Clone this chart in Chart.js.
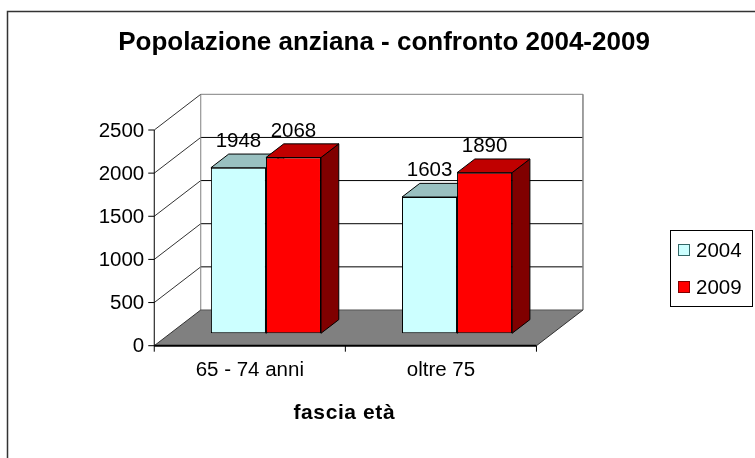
<!DOCTYPE html>
<html>
<head>
<meta charset="utf-8">
<script src="https://cdn.jsdelivr.net/npm/chart.js@4"></script>
<style>
  body { margin: 0; background: #fff; }
  canvas { display: block; }
</style>
</head>
<body>
<canvas id="chart" width="755" height="458"></canvas>
<script>
// data
const categories = ["65 - 74 anni", "oltre 75"];
const seriesNames = ["2004", "2009"];
const values2004 = [1948, 1603];
const values2009 = [2068, 1890];
const yMax = 2500;
const yStep = 500;

const chartTitle = "Popolazione anziana - confronto 2004-2009";
const xTitle = "fascia età";

// 3d look, the chart area is the front plane of the bars
const DX = 46.5, DY = -35.7;     // full floor depth
const BAR_FRONT = 0.347, BAR_BACK = 0.73;
const WALL_K = 1.015;            // walls a touch taller than the bars
const FONT = "'Liberation Sans', Arial, sans-serif";

// point on a plane at depth d (0 = front edge, 1 = back wall)
function at(chart, x, v, d, k) {
  const ys = chart.scales.y;
  const h = (ys.bottom - ys.getPixelForValue(v)) * k;
  const s = d - BAR_FRONT;
  return [x + s * DX, ys.bottom - h + s * DY];
}

function poly(ctx, pts, fill, stroke, lw) {
  ctx.beginPath();
  ctx.moveTo(pts[0][0], pts[0][1]);
  for (let i = 1; i < pts.length; i++) ctx.lineTo(pts[i][0], pts[i][1]);
  ctx.closePath();
  if (fill) { ctx.fillStyle = fill; ctx.fill(); }
  if (stroke) { ctx.strokeStyle = stroke; ctx.lineWidth = lw || 1; ctx.stroke(); }
}

function line(ctx, a, b, color, lw) {
  ctx.beginPath();
  ctx.moveTo(a[0], a[1]);
  ctx.lineTo(b[0], b[1]);
  ctx.strokeStyle = color;
  ctx.lineWidth = lw || 1;
  ctx.stroke();
}

const scene3d = {
  id: "scene3d",
  beforeDraw(chart) {
    const ctx = chart.ctx;
    ctx.save();
    ctx.fillStyle = "#fff";
    ctx.fillRect(0, 0, chart.width, chart.height);
    // outer frame, runs off the right and bottom
    ctx.strokeStyle = "#333";
    ctx.lineWidth = 1.5;
    ctx.strokeRect(7.5, 11.5, chart.width + 20, chart.height + 20);
    // title
    ctx.fillStyle = "#000";
    ctx.font = "bold 26px " + FONT;
    ctx.textAlign = "center";
    ctx.textBaseline = "middle";
    ctx.fillText(chartTitle, 384, 43);
    ctx.restore();
  },
  beforeDatasetsDraw(chart) {
    const ctx = chart.ctx;
    const xs = chart.scales.x, ys = chart.scales.y;
    const L = xs.left, R = xs.right;
    const ticks = ys.ticks.map(t => t.value);
    ctx.save();

    // back wall
    poly(ctx, [at(chart, L, 0, 1, WALL_K), at(chart, R, 0, 1, WALL_K),
               at(chart, R, yMax, 1, WALL_K), at(chart, L, yMax, 1, WALL_K)], "#fff", null);
    ticks.forEach(v => {
      if (v === 0) return;
      const c = v === yMax ? "#808080" : "#000";
      line(ctx, at(chart, L, v, 1, WALL_K), at(chart, R, v, 1, WALL_K), c, 1);
      line(ctx, at(chart, L, v, 0, WALL_K), at(chart, L, v, 1, WALL_K), "#333", 1);
    });
    line(ctx, at(chart, L, 0, 1, WALL_K), at(chart, L, yMax, 1, WALL_K), "#808080", 1);
    line(ctx, at(chart, R, 0, 1, WALL_K), at(chart, R, yMax, 1, WALL_K), "#808080", 1.5);

    // floor
    const f0 = at(chart, L, 0, 0, 1), f1 = at(chart, R, 0, 0, 1);
    const b1 = at(chart, R, 0, 1, 1), b0 = at(chart, L, 0, 1, 1);
    poly(ctx, [f0, f1, b1, b0], "#808080", null);
    line(ctx, b0, b1, "#555", 1);
    line(ctx, f1, b1, "#333", 1);
    line(ctx, f0, b0, "#333", 1);
    line(ctx, f0, f1, "#000", 2);

    // value axis at the front
    line(ctx, f0, at(chart, L, yMax, 0, WALL_K), "#000", 1);
    ctx.font = "20.5px " + FONT;
    ctx.fillStyle = "#000";
    ctx.textAlign = "right";
    ctx.textBaseline = "middle";
    ticks.forEach(v => {
      const p = at(chart, L, v, 0, WALL_K);
      line(ctx, [p[0] - 6, p[1]], p, "#000", 1);
      ctx.fillText(String(v), p[0] - 10, p[1] + 1);
    });

    // category axis
    const n = chart.data.labels.length;
    const cw = (R - L) / n;
    for (let i = 0; i <= n; i++) {
      const p = at(chart, L + i * cw, 0, 0, 1);
      line(ctx, p, [p[0], p[1] + 6], "#000", 1);
    }
    ctx.textAlign = "center";
    chart.data.labels.forEach((lab, i) => {
      const p = at(chart, xs.getPixelForValue(i), 0, 0, 1);
      ctx.fillText(lab, p[0], p[1] + 25);
    });
    ctx.font = "bold 21px " + FONT;
    ctx.letterSpacing = "0.6px";
    const mid = at(chart, (L + R) / 2, 0, 0, 1);
    ctx.fillText(xTitle, mid[0] - 1, mid[1] + 68);
    ctx.letterSpacing = "0px";
    ctx.restore();
  },
  beforeDatasetDraw() {
    return false; // bars are drawn below, in depth order
  },
  afterDatasetsDraw(chart) {
    const ctx = chart.ctx;
    const bdx = (BAR_BACK - BAR_FRONT) * DX, bdy = (BAR_BACK - BAR_FRONT) * DY;
    ctx.save();
    const n = chart.data.labels.length;
    for (let i = 0; i < n; i++) {
      chart.data.datasets.forEach((ds, d) => {
        const el = chart.getDatasetMeta(d).data[i];
        const { x, y, base, width } = el.getProps(["x", "y", "base", "width"], true);
        const x0 = x - width / 2, x1 = x + width / 2;
        el.draw(ctx, chart.chartArea);
        poly(ctx, [[x1, y], [x1, base], [x1 + bdx, base + bdy], [x1 + bdx, y + bdy]], ds.sideColor, "#000", 1);
        poly(ctx, [[x0, y], [x1, y], [x1 + bdx, y + bdy], [x0 + bdx, y + bdy]], ds.topColor, "#000", 1);
      });
    }
    // value labels
    ctx.font = "20.5px " + FONT;
    ctx.fillStyle = "#000";
    ctx.textAlign = "center";
    ctx.textBaseline = "middle";
    chart.data.datasets.forEach((ds, d) => {
      chart.getDatasetMeta(d).data.forEach((el, i) => {
        ctx.fillText(String(ds.data[i]), el.x, el.y + bdy - 13);
      });
    });

    // legend box
    ctx.strokeStyle = "#000";
    ctx.lineWidth = 1;
    ctx.strokeRect(670.5, 230.5, 82, 76);
    ctx.textAlign = "left";
    chart.data.datasets.forEach((ds, d) => {
      const cy = 251 + d * 37;
      ctx.fillStyle = ds.backgroundColor;
      ctx.fillRect(678.5, cy - 6.5, 11, 11);
      ctx.strokeStyle = ds.keyBorder;
      ctx.strokeRect(678.5, cy - 6.5, 11, 11);
      ctx.fillStyle = "#000";
      ctx.fillText(ds.label, 696, cy);
    });
    ctx.restore();
  }
};

new Chart(document.getElementById("chart"), {
  type: "bar",
  data: {
    labels: categories,
    datasets: [
      {
        label: seriesNames[0],
        data: values2004,
        backgroundColor: "#CCFFFF",
        topColor: "#99C0C0",
        sideColor: "#669999",
        keyBorder: "#336666",
        borderColor: "#000",
        borderWidth: 1,
        borderSkipped: false
      },
      {
        label: seriesNames[1],
        data: values2009,
        backgroundColor: "#FF0000",
        topColor: "#C00000",
        sideColor: "#800000",
        keyBorder: "#800000",
        borderColor: "#000",
        borderWidth: 1,
        borderSkipped: false
      }
    ]
  },
  options: {
    responsive: false,
    animation: false,
    devicePixelRatio: 1,
    layout: { padding: { left: 170.4, right: 202.4, top: 120.8, bottom: 124.7 } },
    datasets: { bar: { barPercentage: 1, categoryPercentage: 0.576 } },
    scales: {
      x: { display: false },
      y: { display: false, min: 0, max: yMax, ticks: { stepSize: yStep } }
    },
    plugins: {
      legend: { display: false },
      title: { display: false },
      tooltip: { enabled: false }
    }
  },
  plugins: [scene3d]
});
</script>
</body>
</html>
